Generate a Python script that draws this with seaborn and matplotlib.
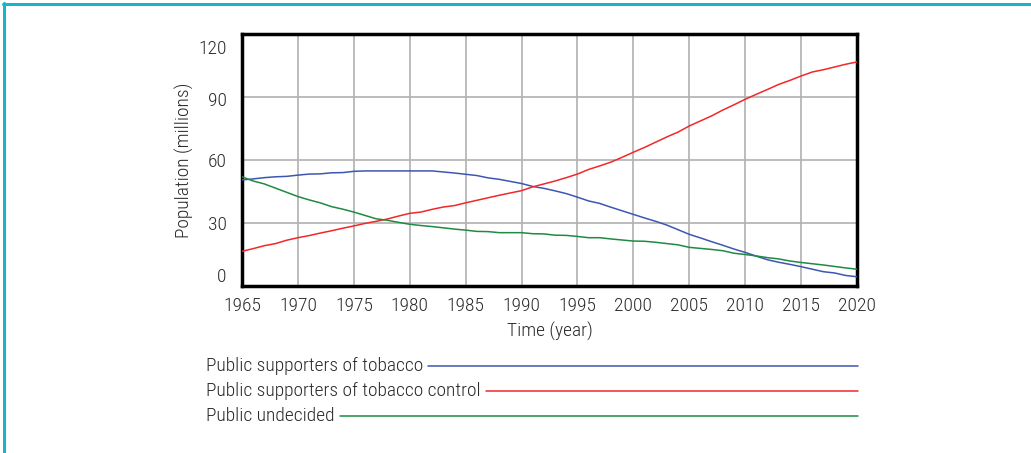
import numpy as np
import pandas as pd
import matplotlib
matplotlib.use("Agg")
import matplotlib.pyplot as plt
import matplotlib.transforms as mtransforms
from matplotlib.lines import Line2D
import seaborn as sns

years = list(range(1965, 2021))

supporters = [50.5, 51.0, 51.6, 52.0, 52.2, 52.8, 53.3, 53.4, 53.9, 54.0,
              54.6, 54.8, 54.8, 54.8, 54.8, 54.8, 54.8, 54.8, 54.3, 53.8,
              53.2, 52.6, 51.5, 50.8, 49.8, 48.8, 47.4, 46.5, 45.3, 44.0,
              42.3, 40.5, 39.3, 37.5, 35.8, 34.1, 32.4, 30.8, 29.0, 26.8,
              24.6, 22.9, 21.1, 19.4, 17.6, 16.0, 14.2, 12.5, 11.3, 10.3,
              9.2, 8.0, 6.8, 6.2, 5.0, 4.4]

control = [16.5, 17.8, 19.2, 20.2, 21.8, 23.0, 24.0, 25.2, 26.3, 27.5,
           28.6, 29.8, 30.8, 31.9, 33.3, 34.6, 35.2, 36.5, 37.6, 38.3,
           39.6, 40.8, 42.0, 43.2, 44.3, 45.4, 47.2, 48.6, 50.0, 51.6,
           53.3, 55.5, 57.2, 59.0, 61.3, 63.7, 66.0, 68.5, 71.0, 73.3,
           76.2, 78.6, 81.0, 83.8, 86.3, 88.9, 91.3, 93.6, 96.0, 97.9,
           100.0, 101.9, 103.0, 104.3, 105.6, 106.7]

undecided = [52.0, 50.0, 48.6, 46.6, 44.6, 42.6, 41.0, 39.6, 37.8, 36.6,
             35.2, 33.6, 32.0, 31.3, 30.3, 29.4, 28.8, 28.3, 27.7, 27.1,
             26.6, 26.0, 25.9, 25.4, 25.4, 25.4, 24.9, 24.8, 24.2, 24.1,
             23.6, 23.0, 23.0, 22.4, 21.9, 21.4, 21.3, 20.8, 20.2, 19.6,
             18.4, 17.9, 17.4, 16.8, 15.6, 15.0, 14.3, 13.5, 12.9, 11.9,
             11.2, 10.6, 10.0, 9.3, 8.6, 8.0]

series_names = ["Public supporters of tobacco",
                "Public supporters of tobacco control",
                "Public undecided"]
colors = ["#3d56b2", "#f0282a", "#1f8a42"]
x_ticks = list(range(1965, 2021, 5))
y_ticks = [0, 30, 60, 90, 120]

df = pd.DataFrame({
    "year": years * 3,
    "value": supporters + control + undecided,
    "series": [series_names[0]] * len(years) + [series_names[1]] * len(years)
              + [series_names[2]] * len(years),
})

sns.set_style("white")
plt.rcParams["font.family"] = ["Roboto Condensed", "Archivo Narrow", "DejaVu Sans"]
plt.rcParams["font.weight"] = "light"
plt.rcParams["axes.labelweight"] = "light"
txt_col = "#2a2a2a"
fs = 14

fig = plt.figure(figsize=(10.31, 4.53), dpi=100)
ax = fig.add_axes([242 / 1031, 1 - 286 / 453, 615 / 1031, 252 / 453])

sns.lineplot(data=df, x="year", y="value", hue="series", hue_order=series_names,
             palette=colors, linewidth=1.1, legend=False, ax=ax, zorder=3)

ax.set_xlim(1965, 2020)
ax.set_ylim(0, 120)
ax.set_xticks(x_ticks)
ax.set_yticks(y_ticks)
ax.set_xticklabels([str(t) for t in x_ticks], fontsize=fs, color=txt_col)
ax.set_yticklabels([str(t) for t in y_ticks], fontsize=fs, color=txt_col)
ax.tick_params(axis="x", length=0, pad=8)
ax.tick_params(axis="y", length=0, pad=11)
ax.grid(True, color="#b0b0b0", linewidth=1.2, zorder=0)
for s in ax.spines.values():
    s.set_color("black")
    s.set_linewidth(2.5)
    s.set_visible(True)

# nudge the end labels inside like the source
shifts = {"0": 11, "120": -13, "90": -2}
for lab in ax.get_yticklabels():
    dy = shifts.get(lab.get_text(), 0)
    if dy:
        lab.set_transform(lab.get_transform()
                          + mtransforms.ScaledTranslation(0, dy / 100, fig.dpi_scale_trans))

ax.set_xlabel("Time (year)", fontsize=fs, color=txt_col, labelpad=5,
              fontweight="light")
ax.set_ylabel("Population (millions)", fontsize=fs, color=txt_col, labelpad=3,
              fontweight="light")

# legend as text + long lines
fig.canvas.draw()
renderer = fig.canvas.get_renderer()
rows_y = [366, 391, 416]
for name, col, yp in zip(series_names, colors, rows_y):
    t = fig.text(206 / 1031, 1 - yp / 453, name, fontsize=fs, color=txt_col,
                 va="center", ha="left", fontweight="light")
    bb = t.get_window_extent(renderer)
    fig.add_artist(Line2D([(bb.x1 + 5) / 1031, 858 / 1031],
                          [1 - yp / 453, 1 - yp / 453],
                          transform=fig.transFigure, color=col, linewidth=1.1))

# cyan frame on top and left
frame = "#1ab4c8"
fig.add_artist(Line2D([3 / 1031, 1], [1 - 4 / 453, 1 - 4 / 453],
                      transform=fig.transFigure, color=frame, linewidth=2.2))
fig.add_artist(Line2D([4 / 1031, 4 / 1031], [0, 1 - 3 / 453],
                      transform=fig.transFigure, color=frame, linewidth=2.2))

fig.savefig("out.png", dpi=100)
